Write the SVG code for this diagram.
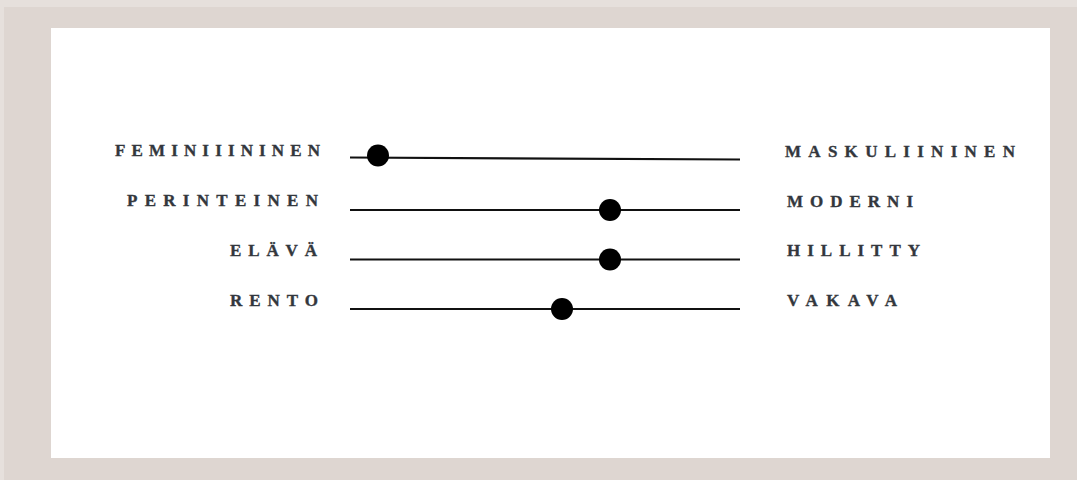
<svg xmlns="http://www.w3.org/2000/svg" width="1077" height="480" viewBox="0 0 1077 480">
<style>
.lbl{font-family:"Liberation Serif","DejaVu Serif",serif;font-weight:bold;font-size:17px;fill:#33373d;stroke:#33373d;stroke-width:0.35}
.track{stroke:#111;stroke-width:2.2;fill:none}
.dot{fill:#000}
</style>
<rect x="0" y="0" width="1077" height="480" fill="#e6e0dc"/>
<rect x="4" y="7" width="1073" height="473" fill="#ded6d1"/>
<rect x="51" y="28" width="999" height="430" fill="#ffffff"/>
<g id="connectors">
<line class="track" x1="350" y1="157.5" x2="740" y2="159.5"/>
<line class="track" x1="350" y1="210" x2="740" y2="210"/>
<line class="track" x1="350" y1="259.5" x2="740" y2="259.5"/>
<line class="track" x1="350" y1="309" x2="740" y2="309"/>
</g>
<g id="row1">
<text class="lbl" x="115" y="156" textLength="205" lengthAdjust="spacing">FEMINIIININEN</text>
<text class="lbl" x="785" y="157" textLength="230" lengthAdjust="spacing">MASKULIININEN</text>
<circle class="dot" cx="378" cy="155.5" r="11"/>
</g>
<g id="row2">
<text class="lbl" x="127" y="206" textLength="191" lengthAdjust="spacing">PERINTEINEN</text>
<text class="lbl" x="787" y="207" textLength="126" lengthAdjust="spacing">MODERNI</text>
<circle class="dot" cx="610" cy="210" r="11"/>
</g>
<g id="row3">
<text class="lbl" x="230" y="256" textLength="87" lengthAdjust="spacing">ELÄVÄ</text>
<text class="lbl" x="787" y="256" textLength="133" lengthAdjust="spacing">HILLITTY</text>
<circle class="dot" cx="610" cy="259.5" r="11"/>
</g>
<g id="row4">
<text class="lbl" x="230" y="306" textLength="88" lengthAdjust="spacing">RENTO</text>
<text class="lbl" x="787" y="306" textLength="110" lengthAdjust="spacing">VAKAVA</text>
<circle class="dot" cx="562" cy="309" r="11"/>
</g>
</svg>
